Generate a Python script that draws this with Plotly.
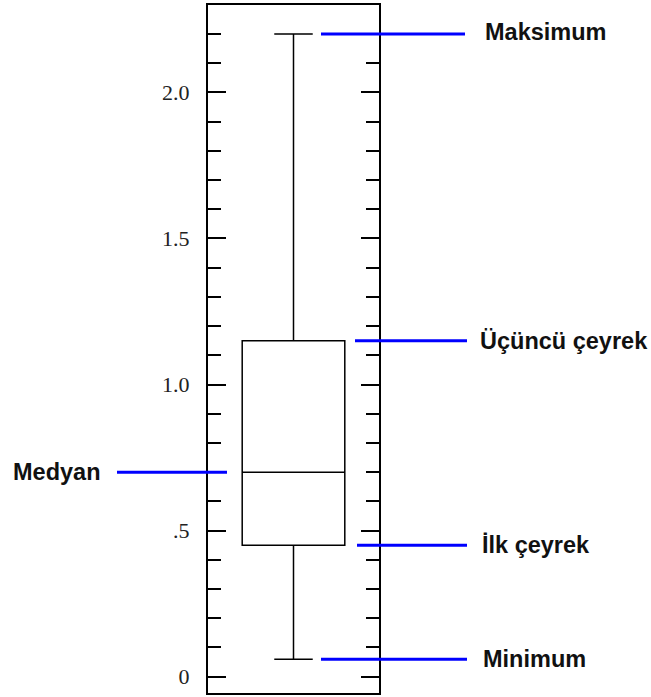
import plotly.graph_objects as go

# Box statistics
stat_names = ["Minimum", "İlk çeyrek", "Medyan", "Üçüncü çeyrek", "Maksimum"]
minimum = [0.06]
q1 = [0.45]
median = [0.70]
q3 = [1.15]
maximum = [2.20]

tick_vals = [0, 0.5, 1.0, 1.5, 2.0]
tick_text = ["0", ".5", "1.0", "1.5", "2.0"]

W, H = 651, 697
L, R = 208, 379  # plot area pixel edges
Y_MIN, Y_MAX = -0.0558, 2.2990


def px_to_paper(px):
    return (px - L) / (R - L)


fig = go.Figure()
fig.add_trace(go.Box(
    x=[0],
    q1=q1, median=median, q3=q3,
    lowerfence=minimum, upperfence=maximum,
    width=0.6, whiskerwidth=0.375,
    fillcolor="white",
    line=dict(color="black", width=1.5),
    boxpoints=False,
    showlegend=False,
    hoverinfo="skip",
))

# Label lines and texts: (value, line x0 px, line x1 px, text x px, text)
labels = [
    (maximum[0], 321, 465, 483, stat_names[4]),
    (q3[0], 355, 467, 478, stat_names[3]),
    (q1[0], 357, 467, 480, stat_names[1]),
    (minimum[0], 321, 467, 481, stat_names[0]),
    (median[0], 117, 227, 11, stat_names[2]),
]
for val, x0, x1, tx, name in labels:
    fig.add_shape(type="line", xref="paper", yref="y",
                  x0=px_to_paper(x0), x1=px_to_paper(x1), y0=val, y1=val,
                  line=dict(color="#0000ff", width=3), layer="above")
    fig.add_annotation(xref="paper", yref="y", x=px_to_paper(tx), y=val,
                       text=name, showarrow=False, xanchor="left", yanchor="middle",
                       font=dict(family="Liberation Sans", size=23.5, color="#111111",
                                 weight="bold"),
                       yshift=2 if name == "Maksimum" else 0)

fig.update_layout(
    width=W, height=H, autosize=False,
    margin=dict(l=L, r=W - R, t=3, b=4, pad=0),
    paper_bgcolor="white", plot_bgcolor="white",
    xaxis=dict(range=[-0.5, 0.5], showticklabels=False, ticks="", showgrid=False,
               zeroline=False, showline=True, linecolor="black", linewidth=2, mirror=True,
               fixedrange=True),
    yaxis=dict(range=[Y_MIN, Y_MAX], tickvals=tick_vals, ticktext=tick_text,
               ticks="inside", ticklen=18, tickwidth=2, tickcolor="black",
               minor=dict(dtick=0.1, tick0=0, ticks="inside", ticklen=13, tickwidth=2,
                          tickcolor="black", showgrid=False),
               showgrid=False, zeroline=False, showline=True, linecolor="black",
               linewidth=2, mirror="ticks", ticklabelstandoff=12,
               tickfont=dict(family="Liberation Serif", size=22, color="#222222"),
               fixedrange=True),
)

fig.write_html("out.html", config={"displayModeBar": False},
               post_script="document.body.style.margin='0';")
